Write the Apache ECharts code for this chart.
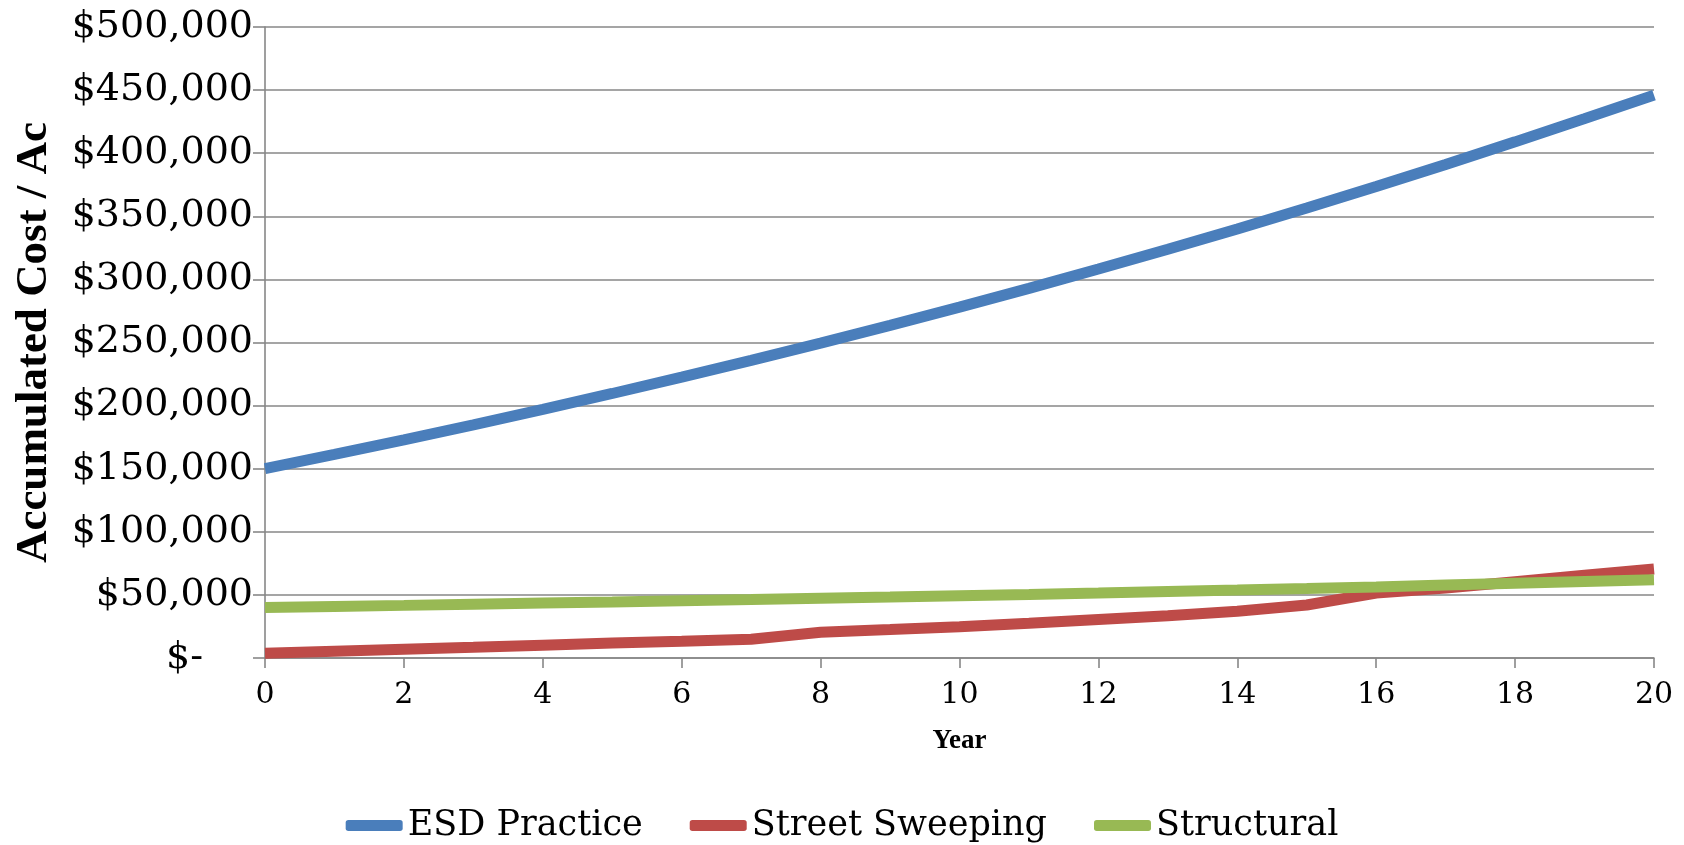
<!DOCTYPE html>
<html>
<head>
<meta charset="utf-8">
<script src="https://cdn.jsdelivr.net/npm/echarts@6/dist/echarts.min.js"></script>
<style>
html,body{margin:0;padding:0;background:#fff;}
#chart{width:1684px;height:845px;}
</style>
</head>
<body>
<div id="chart"></div>
<script>
var years = [0,1,2,3,4,5,6,7,8,9,10,11,12,13,14,15,16,17,18,19,20];
var esdPractice = [150000,161300,172900,184800,197000,209600,222500,235800,249500,263600,278000,292900,308200,323900,340000,356600,373600,391100,409000,427400,446000];
var streetSweeping = [3700,5300,6900,8500,10200,11800,13300,14900,20400,22500,24800,27500,30500,33500,37000,42000,51500,55500,60500,65500,70500];
var structural = [40000,40850,41700,42600,43500,44400,45350,46300,47300,48300,49350,50400,51500,52650,53800,55000,56250,57800,59200,60600,62000];
var seriesNames = ['ESD Practice','Street Sweeping','Structural'];
var xTicks = {min:0, max:20, interval:2};
var yTicks = {min:0, max:500000, interval:50000};

function pairs(vals){ return years.map(function(y,i){ return [y, vals[i]]; }); }

var chart = echarts.init(document.getElementById('chart'), null, {renderer:'canvas'});
var axisGray = '#878787';
chart.setOption({
  animation:false,
  backgroundColor:'#ffffff',
  grid:{left:265, right:30, top:27, bottom:187, containLabel:false},
  legend:{
    data:seriesNames,
    left:'center',
    top:803,
    icon:'roundRect',
    itemWidth:57,
    itemHeight:11,
    itemGap:47,
    textStyle:{fontFamily:'DejaVu Serif', fontSize:35, color:'#000'}
  },
  xAxis:{
    type:'value',
    min:xTicks.min, max:xTicks.max, interval:xTicks.interval,
    name:'Year',
    nameLocation:'middle',
    nameGap:70,
    nameTextStyle:{fontFamily:'Liberation Serif', fontWeight:'bold', fontSize:27, color:'#000'},
    axisLine:{show:true, lineStyle:{color:axisGray, width:1.6}},
    axisTick:{show:true, length:10, lineStyle:{color:axisGray, width:1.6}},
    axisLabel:{fontFamily:'DejaVu Serif', fontSize:30, color:'#000', margin:22},
    splitLine:{show:false}
  },
  yAxis:{
    type:'value',
    min:yTicks.min, max:yTicks.max, interval:yTicks.interval,
    name:'Accumulated Cost / Ac',
    nameLocation:'middle',
    nameGap:208,
    nameRotate:90,
    nameTextStyle:{fontFamily:'Liberation Serif', fontWeight:'bold', fontSize:45, color:'#000'},
    axisLine:{show:true, lineStyle:{color:axisGray, width:1.6}},
    axisTick:{show:true, length:12, lineStyle:{color:axisGray, width:1.6}},
    axisLabel:{
      fontFamily:'DejaVu Serif', fontSize:38, color:'#000', margin:12,
      formatter:function(v){
        if(v===0) return '{z|$-}';
        return '$' + v.toLocaleString('en-US');
      },
      rich:{z:{fontFamily:'DejaVu Serif', fontSize:38, color:'#000', padding:[0,50,0,0]}}
    },
    splitLine:{show:true, lineStyle:{color:axisGray, width:1.6}}
  },
  series:[
    {name:seriesNames[0], type:'line', data:pairs(esdPractice), showSymbol:false, symbol:'none',
     lineStyle:{color:'#4A7EBB', width:11}, itemStyle:{color:'#4A7EBB'}},
    {name:seriesNames[1], type:'line', data:pairs(streetSweeping), showSymbol:false, symbol:'none',
     lineStyle:{color:'#BE4B48', width:11}, itemStyle:{color:'#BE4B48'}},
    {name:seriesNames[2], type:'line', data:pairs(structural), showSymbol:false, symbol:'none',
     lineStyle:{color:'#98B954', width:11}, itemStyle:{color:'#98B954'}}
  ]
});
</script>
</body>
</html>
